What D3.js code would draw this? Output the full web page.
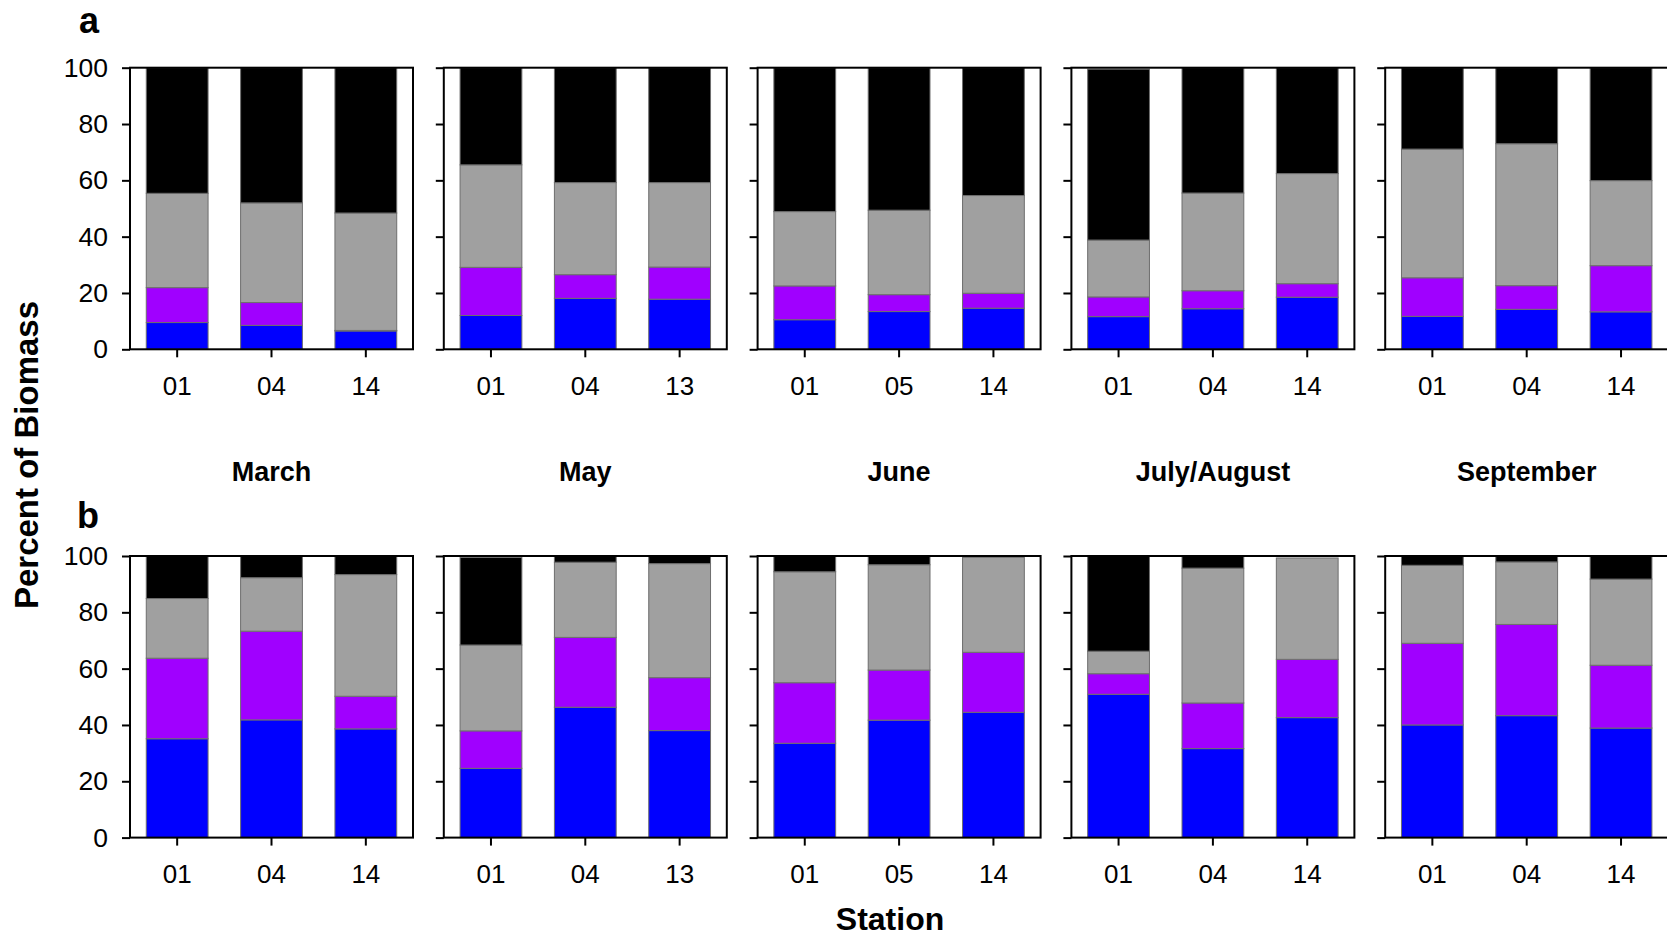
<!DOCTYPE html>
<html>
<head>
<meta charset="utf-8">
<script src="https://cdn.jsdelivr.net/npm/d3@7"></script>
<style>
  html, body { margin: 0; padding: 0; background: #fff; }
  svg { display: block; font-family: "Liberation Sans", Arial, Helvetica, sans-serif; }
</style>
</head>
<body>
<svg id="chart" width="1667" height="939"></svg>
<script>
// Sampling periods and the stations visited in each
const months = ["March", "May", "June", "July/August", "September"];
const stations = [
  ["01", "04", "14"],
  ["01", "04", "13"],
  ["01", "05", "14"],
  ["01", "04", "14"],
  ["01", "04", "14"]
];
const yTicks = [0, 20, 40, 60, 80, 100];

// Percent of biomass per group, panel a (15 bars, month by month)
const blueA   = [9.5, 8.5, 6.5,  12.0, 18.1, 17.8,  10.5, 13.4, 14.6,  11.6, 14.4, 18.5,  11.7, 14.2, 13.3];
const purpleA = [12.4, 8.1, 0.2, 17.1, 8.4, 11.4,   12.0, 6.0, 5.3,    7.0, 6.4, 4.8,     13.7, 8.4, 16.4];
const greyA   = [33.5, 35.4, 41.7, 36.4, 32.7, 30.0, 26.4, 30.0, 34.7, 20.2, 34.7, 39.1,  45.7, 50.4, 30.2];
const blackA  = [44.6, 48.0, 51.6, 34.5, 40.8, 40.8, 51.1, 50.6, 45.4, 60.7, 44.5, 37.6,  28.9, 27.0, 40.1];

// Percent of biomass per group, panel b
const blueB   = [35.1, 41.8, 38.6, 24.6, 46.3, 38.0, 33.5, 41.7, 44.5, 50.9, 31.6, 42.6,  40.0, 43.3, 38.9];
const purpleB = [28.6, 31.5, 11.6, 13.3, 24.8, 18.8, 21.5, 17.8, 21.3, 7.3, 16.2, 20.7,   29.0, 32.4, 22.3];
const greyB   = [21.2, 19.0, 43.2, 30.5, 26.7, 40.5, 39.4, 37.4, 33.7, 8.0, 47.9, 36.0,   27.7, 22.2, 30.6];
const blackB  = [15.1, 7.7, 6.6,   31.1, 2.2, 2.7,   5.6, 3.1, 0.0,    33.8, 4.3, 0.0,    3.3, 2.1, 8.2];

const keys = ["blue", "purple", "grey", "black"];
const colors = { blue: "#0000ff", purple: "#a000ff", grey: "#a0a0a0", black: "#000000" };

const svg = d3.select("#chart");

const panelW = 283;
const panelH = 281.6;
const panelX0 = 130;
const panelStep = 313.8;
const rowTops = [67.7, 556];

const y = d3.scaleLinear().domain([0, 100]).range([panelH, 0]);
const stack = d3.stack().keys(keys);

function rowData(b, p, g, k) {
  return months.map((m, mi) => stations[mi].map((s, si) => {
    const i = mi * 3 + si;
    return { station: s, blue: b[i], purple: p[i], grey: g[i], black: k[i] };
  }));
}

const rows = [
  rowData(blueA, purpleA, greyA, blackA),
  rowData(blueB, purpleB, greyB, blackB)
];

rows.forEach((row, ri) => {
  row.forEach((bars, mi) => {
    const gx = panelX0 + mi * panelStep;
    const g = svg.append("g").attr("transform", `translate(${gx},${rowTops[ri]})`);

    const x = d3.scaleBand()
      .domain(stations[mi])
      .range([0, panelW])
      .paddingInner(0.345)
      .paddingOuter(0.1725);

    const series = stack(bars);
    g.selectAll("g.layer")
      .data(series)
      .join("g")
      .attr("class", "layer")
      .attr("fill", d => colors[d.key])
      .selectAll("rect")
      .data(d => d)
      .join("rect")
      .attr("x", d => x(d.data.station))
      .attr("width", x.bandwidth())
      .attr("y", d => y(d[1]))
      .attr("height", d => Math.max(0, y(d[0]) - y(d[1])))
      .attr("stroke", "#6e6e6e")
      .attr("stroke-width", 1);

    // frame
    g.append("rect")
      .attr("x", 0).attr("y", 0)
      .attr("width", panelW).attr("height", panelH)
      .attr("fill", "none")
      .attr("stroke", "#000")
      .attr("stroke-width", 2);

    const yAxis = d3.axisLeft(y).tickValues(yTicks).tickSize(8).tickPadding(14)
      .tickFormat(mi === 0 ? d3.format("d") : () => "");
    const ya = g.append("g").call(yAxis);
    ya.select(".domain").remove();
    ya.selectAll(".tick line").attr("stroke", "#000").attr("stroke-width", 2);
    ya.selectAll(".tick text").attr("font-size", 26.5).attr("fill", "#000")
      .attr("font-family", "Liberation Sans, Arial, sans-serif");

    const xAxis = d3.axisBottom(x).tickSize(8).tickPadding(19);
    const xa = g.append("g").attr("transform", `translate(0,${panelH})`).call(xAxis);
    xa.select(".domain").remove();
    xa.selectAll(".tick line").attr("stroke", "#000").attr("stroke-width", 2);
    xa.selectAll(".tick text").attr("font-size", 26).attr("fill", "#000")
      .attr("font-family", "Liberation Sans, Arial, sans-serif");

    if (ri === 0) {
      svg.append("text")
        .attr("x", gx + panelW / 2)
        .attr("y", 481)
        .attr("text-anchor", "middle")
        .attr("font-size", 27)
        .attr("font-weight", "bold")
        .text(months[mi]);
    }
  });
});

// panel letters
svg.append("text").attr("x", 89).attr("y", 33).attr("text-anchor", "middle")
  .attr("font-size", 36).attr("font-weight", "bold").text("a");
svg.append("text").attr("x", 88).attr("y", 528).attr("text-anchor", "middle")
  .attr("font-size", 36).attr("font-weight", "bold").text("b");

// axis titles
svg.append("text")
  .attr("transform", "translate(38,455) rotate(-90)")
  .attr("text-anchor", "middle")
  .attr("font-size", 33)
  .attr("font-weight", "bold")
  .text("Percent of Biomass");

svg.append("text")
  .attr("x", 890).attr("y", 930)
  .attr("text-anchor", "middle")
  .attr("font-size", 32)
  .attr("font-weight", "bold")
  .text("Station");
</script>
</body>
</html>
